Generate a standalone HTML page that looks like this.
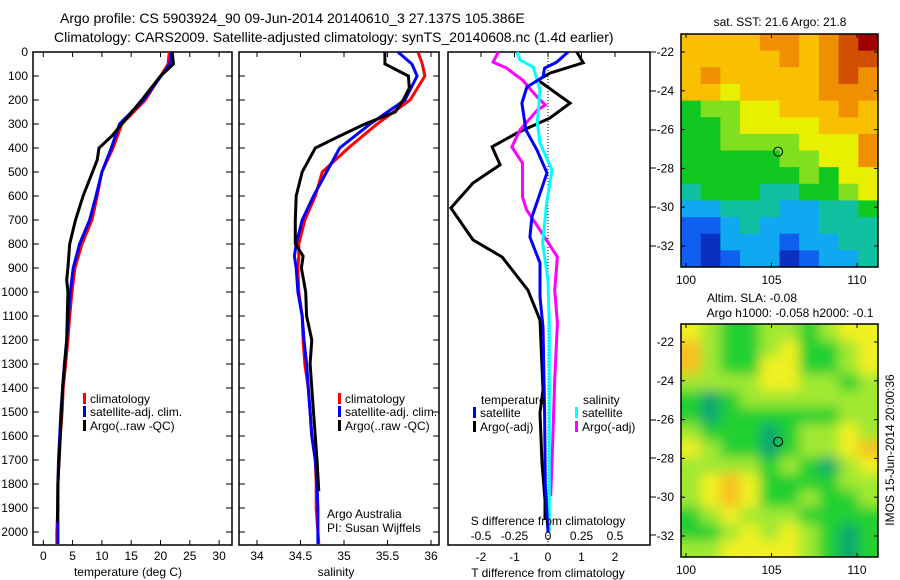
<!DOCTYPE html>
<html><head><meta charset="utf-8">
<style>
html,body{margin:0;padding:0;background:#fff;}
svg{display:block;font-family:"Liberation Sans",sans-serif;}
text{font-size:12px;fill:#000;}
</style></head>
<body>
<svg id="c" width="900" height="580" viewBox="0 0 900 580" xmlns="http://www.w3.org/2000/svg">
<defs>
<clipPath id="clipSST"><rect x="681" y="34" width="197" height="233"/></clipPath>
<clipPath id="clipSLA"><rect x="681" y="324" width="197" height="233"/></clipPath>
<filter id="blur" x="-5%" y="-5%" width="110%" height="110%"><feGaussianBlur stdDeviation="6"/></filter>
</defs>
<text x="60" y="23" style="font-size:14px">Argo profile: CS 5903924_90 09-Jun-2014 20140610_3 27.137S 105.386E</text>
<text x="54" y="42" style="font-size:14px">Climatology: CARS2009. Satellite-adjusted climatology: synTS_20140608.nc (1.4d earlier)</text>
<g id="g"></g>
</svg>
<script>
// ---- data ----
const depthT = [0,50,100,200,300,400,500,600,700,800,900,1000,1100,1200,1300,1400,1500,1600,1700,1800,1900,2000,2050];
const tempClim = [21.5,21.3,20,17.4,13.4,11.9,10,9.2,8.3,6.6,5.4,4.9,4.5,4.2,3.8,3.4,3.2,2.9,2.7,2.5,2.5,2.3,2.3];
const tempSat  = [21.9,21.6,20.1,17.1,13.0,11.6,10,9.0,7.9,6.2,5.1,4.6,4.3,4.0,3.6,3.3,3.0,2.8,2.6,2.5,2.5,2.5,2.5];
const depthArgoT = [0,50,100,200,300,350,400,450,500,600,700,800,900,950,1000,1200,1400,1600,1800,1960];
const tempArgo = [22,22.2,20,16.8,13.4,11.7,9.5,9.2,8.4,6.8,5.5,4.5,4.2,4.0,4.2,4.0,3.3,2.9,2.5,2.4];

const depthS = [0,50,100,200,300,400,500,600,700,800,850,900,1000,1100,1200,1300,1400,1500,1600,1700,1800,1900,2000,2050];
const salClim = [35.85,35.9,35.93,35.76,35.38,35.05,34.75,34.67,34.55,34.48,34.48,34.47,34.48,34.52,34.53,34.55,34.59,34.61,34.63,34.67,34.68,34.68,34.70,34.71];
const salSat  = [35.62,35.78,35.84,35.70,35.30,34.95,34.80,34.65,34.52,34.45,34.43,34.45,34.47,34.52,34.54,34.57,34.59,34.61,34.63,34.67,34.69,34.70,34.70,34.70];
const depthArgoS = [0,50,100,150,200,250,300,350,400,500,600,700,800,850,900,1000,1100,1200,1300,1500,1700,1830];
const salArgo = [35.47,35.47,35.74,35.75,35.68,35.59,35.24,34.95,34.67,34.52,34.45,34.44,34.44,34.53,34.51,34.56,34.57,34.63,34.61,34.65,34.69,34.71];

const depthDTb = [0,45,88,117,167,213,275,338,395,470,546,650,783,854,992,1117,1408,1504,1712,1867,1950];
const dTArgo  = [0.86,1.05,0.06,-0.3,0.2,0.66,0.06,-0.93,-1.67,-1.43,-2.24,-2.9,-2.24,-1.37,-0.6,-0.24,-0.15,-0.24,-0.18,-0.09,-0.09];
const depthDTs = [0,42,67,104,146,213,325,408,504,688,771,879,1021,1146,1500,1800,2000];
const dTSat   = [0.6,0.26,-0.1,-0.15,-0.63,-0.78,-0.66,-0.33,-0.03,-0.48,-0.54,-0.24,-0.24,-0.15,-0.1,-0.08,0.0];
const depthDSs = [0,33,63,158,296,379,492,629,796,950,1146,1500,1800,2000];
const dSSat   = [-0.23,-0.21,-0.11,-0.06,-0.08,-0.06,0.03,-0.01,-0.04,0,0.01,0.01,0.01,0.01];
const depthDSa = [0,42,67,117,188,221,242,325,396,463,604,658,742,854,992,1129,1367,1712,1850];
const dSArgo  = [-0.37,-0.41,-0.31,-0.19,-0.08,-0.02,-0.08,-0.21,-0.27,-0.19,-0.19,-0.16,-0.06,0.07,0.05,0.07,0.05,0.03,0.02];

const depthTicks = [0,100,200,300,400,500,600,700,800,900,1000,1100,1200,1300,1400,1500,1600,1700,1800,1900,2000];
const tempTicks = [0,5,10,15,20,25,30];
const salTicks = [34,34.5,35,35.5,36];
const salTickLabels = ["34","34.5","35","35.5","36"];
const dTTicks = [-2,-1,0,1,2];
const dSTicks = [-0.5,-0.25,0,0.25,0.5];
const dSTickLabels = ["-0.5","-0.25","0","0.25","0.5"];
const latTicks = [-22,-24,-26,-28,-30,-32];
const lonTicks = [100,105,110];
const argoLon = 105.386, argoLat = -27.137;

// SST grid (colour class 0..10), rows north->south
const sstGrid = [
[7,7,7,7,8,8,7,8,9,10],
[7,7,7,7,7,8,7,8,9,9],
[7,8,7,7,7,7,7,8,9,8],
[7,7,6,7,7,7,7,8,8,8],
[4,5,5,6,6,7,7,7,8,7],
[4,4,5,6,6,6,6,7,7,7],
[4,4,5,5,5,5,6,6,6,8],
[4,4,4,4,4,5,5,6,6,8],
[4,4,4,4,4,4,5,4,6,6],
[3,4,4,4,3,3,4,4,5,6],
[2,2,3,3,3,2,2,3,3,4],
[1,1,2,3,2,2,2,3,3,3],
[1,0,2,2,2,1,2,2,3,3],
[1,0,1,2,2,0,1,2,2,3]];
// SLA grid (0..4)
const slaGrid = [
[3,2,1,1,2,2,1,2,3,3],
[4,2,1,1,2,3,1,1,2,3],
[4,2,1,1,3,3,1,1,2,3],
[2,2,2,2,3,3,2,2,1,2],
[1,0,1,2,2,2,2,2,2,2],
[1,0,1,1,1,1,1,1,2,2],
[2,1,1,1,0,1,2,2,3,2],
[3,2,1,1,0,1,2,2,3,4],
[2,2,2,2,1,2,1,0,2,3],
[2,3,4,3,1,1,1,1,2,2],
[2,3,4,3,1,1,2,1,1,2],
[1,2,3,2,2,2,1,1,1,1],
[1,1,2,3,2,3,2,1,0,1],
[2,2,3,3,3,3,2,1,0,1]];

// ---- drawing ----
const NS="http://www.w3.org/2000/svg";
const G=document.getElementById('g');
function el(tag,attrs,parent){const e=document.createElementNS(NS,tag);for(const k in attrs)e.setAttribute(k,attrs[k]);(parent||G).appendChild(e);return e;}
function txt(x,y,s,anchor,parent){const t=el('text',{x:x,y:y,'text-anchor':anchor||'start'},parent);t.textContent=s;return t;}
const yD = d => 52 + d*0.24;
const xT = v => 43.3 + v*5.86;
const xS = v => 257 + (v-34)*87;
const xDT = v => 548 + v*33.5;
const xDS = v => 548 + v*134;

function frame(x1,x2,y1,y2,name){
  const r=el('rect',{x:x1,y:y1,width:x2-x1,height:y2-y1,fill:'none',stroke:'#000','stroke-width':1.5});
  
  
}
function line(xf,vals,ds,color,name){
  const pts=vals.map((v,i)=>xf(v).toFixed(1)+','+yD(ds[i]).toFixed(1)).join(' ');
  const p=el('polyline',{points:pts,fill:'none',stroke:color,'stroke-width':3,'stroke-linejoin':'miter'});
  
  
}
function legend(x,y,color,label,name){
  const g=el('g',{});
  
  
  el('rect',{x:x,y:y-10,width:3,height:11,fill:color},g);
  txt(x+7,y,label,'start',g);
}

// Panel 1
frame(33,232,52,545,'temperature-panel-frame');
depthTicks.forEach(d=>{
  el('line',{x1:33,x2:39,y1:yD(d),y2:yD(d),stroke:'#000'});
  el('line',{x1:226,x2:232,y1:yD(d),y2:yD(d),stroke:'#000'});
  const t=txt(28,yD(d)+4,String(d),'end');
  
  
});
tempTicks.forEach(v=>{
  el('line',{x1:xT(v),x2:xT(v),y1:545,y2:540,stroke:'#000'});
  el('line',{x1:xT(v),x2:xT(v),y1:52,y2:57,stroke:'#000'});
  const t=txt(xT(v),560,String(v),'middle');
  
  
});
txt(128,576,'temperature (deg C)','middle');
line(xT,tempClim,depthT,'#ff0000','temperature-climatology-line');
line(xT,tempSat,depthT,'#0000ff','temperature-satellite-line');
line(xT,tempArgo,depthArgoT,'#000000','temperature-argo-line');
legend(83,403,'#ff0000','climatology','legend-climatology');
legend(83,416,'#0000ff','satellite-adj. clim.','legend-satellite-adj');
legend(83,430,'#000000','Argo(..raw -QC)','legend-argo');

// Panel 2
frame(239,439,52,545,'salinity-panel-frame');
depthTicks.forEach(d=>{
  el('line',{x1:239,x2:245,y1:yD(d),y2:yD(d),stroke:'#000'});
  el('line',{x1:433,x2:439,y1:yD(d),y2:yD(d),stroke:'#000'});
});
salTicks.forEach((v,i)=>{
  el('line',{x1:xS(v),x2:xS(v),y1:545,y2:540,stroke:'#000'});
  el('line',{x1:xS(v),x2:xS(v),y1:52,y2:57,stroke:'#000'});
  const t=txt(xS(v),560,salTickLabels[i],'middle');
  
  
});
txt(336,576,'salinity','middle');
line(xS,salClim,depthS,'#ff0000','salinity-climatology-line');
line(xS,salSat,depthS,'#0000ff','salinity-satellite-line');
line(xS,salArgo,depthArgoS,'#000000','salinity-argo-line');
legend(338,403,'#ff0000','climatology','legend-sal-climatology');
legend(338,416,'#0000ff','satellite-adj. clim.','legend-sal-satellite-adj');
legend(338,430,'#000000','Argo(..raw -QC)','legend-sal-argo');
txt(327,518,'Argo Australia');
txt(327,532,'PI: Susan Wijffels');

// Panel 3
frame(448,650,52,545,'difference-panel-frame');
[52,91,130,168,207,246,420,458,497,535].forEach(y=>el('line',{x1:650,x2:656,y1:y,y2:y,stroke:'#000'}));
dTTicks.forEach(v=>{
  el('line',{x1:xDT(v),x2:xDT(v),y1:52,y2:57,stroke:'#000'});
  const t=txt(xDT(v),561,String(v),'middle');
  
  
});
dSTicks.forEach((v,i)=>{
  const t=txt(xDS(v),540,dSTickLabels[i],'middle');
  
  
});
el('line',{x1:548,x2:548,y1:52,y2:545,stroke:'#000','stroke-dasharray':'1,2'});
line(xDT,dTArgo,depthDTb,'#000000','t-diff-argo-line');
line(xDS,dSArgo,depthDSa,'#ff00ff','s-diff-argo-line');
line(xDS,dSSat,depthDSs,'#00ffff','s-diff-satellite-line');
line(xDT,dTSat,depthDTs,'#0000ff','t-diff-satellite-line');
txt(481,404,'temperature');
legend(473,417,'#0000ff','satellite','legend-t-satellite');
legend(473,431,'#000000','Argo(-adj)','legend-t-argo');
txt(583,404,'salinity');
legend(575,417,'#00ffff','satellite','legend-s-satellite');
legend(575,431,'#ff00ff','Argo(-adj)','legend-s-argo');
txt(548,525,'S difference from climatology','middle');
txt(548,577,'T difference from climatology','middle');

// Maps
const sstColors=['#0a30c0','#1060f0','#10a8f0','#10c0a0','#10c820','#80e020','#e8f000','#f8c000','#f09000','#d05000','#a00000'];
const slaColors=['#10a870','#20d030','#a0e830','#f0f020','#f8c020'];
const lonX0=686, lonS=17.1;
function drawMap(grid,colors,y0,latY22,clipId,name,blur){
  const g=el('g',{'clip-path':'url(#'+clipId+')'});
  
  
  const inner=el('g',blur?{filter:'url(#blur)'}:{},g);
  const nr=grid.length,nc=grid[0].length,cw=197/nc,ch=233/nr;
  const pad=blur?14:0;
  grid.forEach((row,r)=>row.forEach((v,c)=>{
    const x=681+c*cw-(c==0?pad:0), y=y0+r*ch-(r==0?pad:0);
    const w=cw+0.5+(c==0||c==nc-1?pad:0), h=ch+0.5+(r==0||r==nr-1?pad:0);
    const cell=el('rect',{x:x,y:y,width:w,height:h,fill:colors[v]},inner);
    
    
  }));
  frame(681,878,y0,y0+233,name+'-frame');
  const yL = lat => latY22 + (-22-lat)*19.4;
  latTicks.forEach(l=>{
    el('line',{x1:681,x2:685,y1:yL(l),y2:yL(l),stroke:'#000'});
    el('line',{x1:874,x2:878,y1:yL(l),y2:yL(l),stroke:'#000'});
    const t=txt(674,yL(l)+4,String(l),'end');
    
    
  });
  lonTicks.forEach(l=>{
    const x=lonX0+(l-100)*lonS;
    el('line',{x1:x,x2:x,y1:y0+233,y2:y0+229,stroke:'#000'});
    el('line',{x1:x,x2:x,y1:y0,y2:y0+4,stroke:'#000'});
    const t=txt(x,y0+250,String(l),'middle');
    
    
  });
  const m=el('circle',{cx:lonX0+(argoLon-100)*lonS,cy:yL(argoLat),r:4.5,fill:'none',stroke:'#000'});
  
  
}
drawMap(sstGrid,sstColors,34,52,'clipSST','sst-map',false);
drawMap(slaGrid,slaColors,324,342,'clipSLA','sla-map',true);
txt(780,26,'sat. SST: 21.6 Argo: 21.8','middle');
txt(752,302,'Altim. SLA: -0.08','middle');
txt(790,317,'Argo h1000: -0.058 h2000: -0.1','middle');
const v=txt(0,0,'IMOS 15-Jun-2014 20:00:36','middle');
v.setAttribute('transform','translate(894,450) rotate(-90)');


</script>
</body></html>
